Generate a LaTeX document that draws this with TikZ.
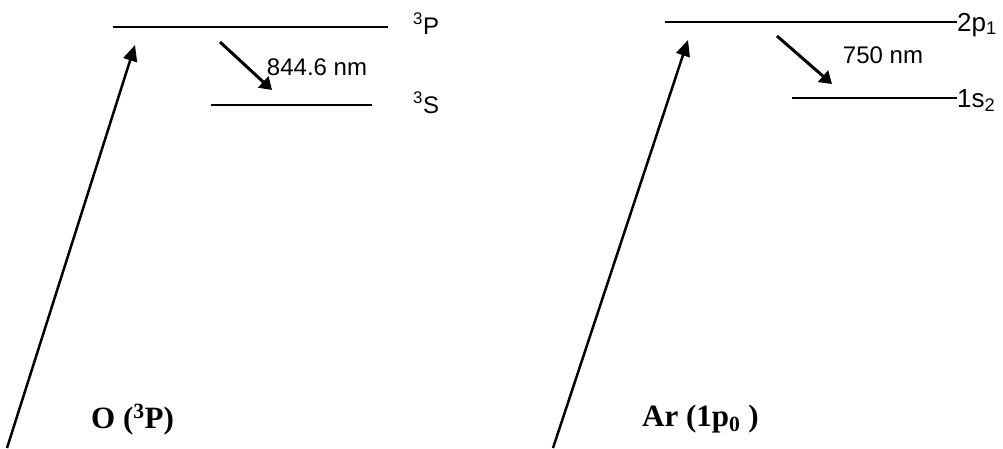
\documentclass[tikz,border=0pt]{standalone}
\usepackage{fontspec}
\setmainfont{Liberation Serif}
\setsansfont{Liberation Sans}
\usetikzlibrary{arrows.meta}
\begin{document}
\begin{tikzpicture}[x=1pt,y=-1pt,
  level/.style={line width=1.2pt},
  levelthick/.style={line width=2.4pt},
  emit/.style={line width=3pt,-{Triangle[length=12pt,width=15pt]}},
  excite/.style={line width=2.5pt,-{Triangle[length=16pt,width=14pt]}},
  lab/.style={font=\sffamily\fontsize{24}{24}\selectfont,inner sep=0pt},
  arlab/.style={font=\sffamily\fontsize{26}{26}\selectfont,inner sep=0pt},
  wl/.style={font=\sffamily\fontsize{24}{24}\selectfont,inner sep=0pt},
  species/.style={font=\bfseries\fontsize{31}{31}\selectfont,inner sep=0pt}]
\useasboundingbox (0,0) rectangle (1003,448);
% left: oxygen
\coordinate (p3a) at (113,27);
\coordinate (p3b) at (388,27);
\coordinate (s3a) at (211,105);
\coordinate (s3b) at (372,105);
\draw[level] (p3a) -- (p3b);
\draw[level] (s3a) -- (s3b);
\node[lab,anchor=base west] (p3lab) at (413,34) {\textsuperscript{3}P};
\node[lab,anchor=base west] (s3lab) at (413,113) {\textsuperscript{3}S};
\coordinate (oe1) at (220,42);
\coordinate (oe2) at (272,90);
\draw[emit] (oe1) -- (oe2);
\node[wl] (owl) at (317,67) {844.6 nm};
\coordinate (ox1) at (7,448);
\coordinate (ox2) at (135,45);
\draw[excite] (ox1) -- (ox2);
\node[species,anchor=base west] (olab) at (91,428) {O (\textsuperscript{3}P)};
% right: argon
\coordinate (a2a) at (665,22);
\coordinate (a2b) at (957,22);
\coordinate (a1a) at (792,98);
\coordinate (a1b) at (957,98);
\draw[level] (a2a) -- (a2b);
\draw[levelthick] (a1a) -- (a1b);
\node[arlab,anchor=base west] (a2lab) at (957,31) {2p\textsubscript{1}};
\node[arlab,anchor=base west] (a1lab) at (957,107) {1s\textsubscript{2}};
\coordinate (ae1) at (777,36);
\coordinate (ae2) at (832,84);
\draw[emit] (ae1) -- (ae2);
\node[wl] (awl) at (883,55) {750 nm};
\coordinate (ax1) at (553,448);
\coordinate (ax2) at (688,40);
\draw[excite] (ax1) -- (ax2);
\node[species,anchor=base west] (alab) at (642,426) {Ar (1p\textsubscript{0} )};
\end{tikzpicture}
\end{document}
